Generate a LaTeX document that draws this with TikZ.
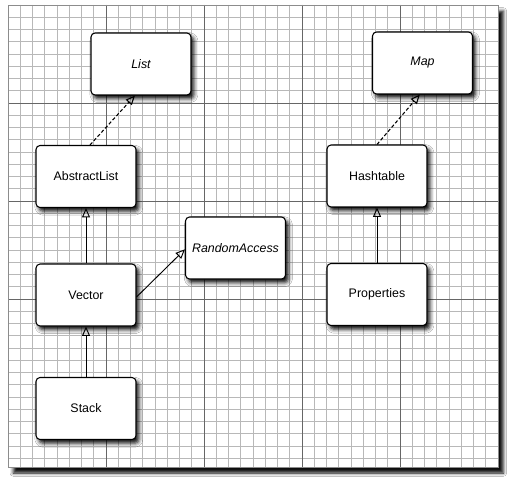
\documentclass[tikz,border=0pt]{standalone}
\usepackage{fontspec}
\setmainfont{Liberation Sans}
\usepackage{tikz}
\usetikzlibrary{arrows.meta, shadows.blur}

\begin{document}
\begin{tikzpicture}[x=0.75pt, y=-0.75pt,
  minorline/.style={draw=black!28, line width=0.4pt},
  majorline/.style={draw=black!60, line width=0.5pt},
  classbox/.style={draw, line width=0.8pt, rounded corners=3pt, fill=white,
    minimum width=75pt, minimum height=46.5pt, inner sep=2pt,
    font=\fontsize{9.3}{11}\selectfont,
    blur shadow={shadow xshift=2.2pt, shadow yshift=-2.8pt, shadow blur radius=3pt, shadow opacity=95}},
  ifacebox/.style={classbox, font=\fontsize{9.3}{11}\selectfont\itshape},
  extends/.style={draw, line width=0.7pt, -{Triangle[open, length=7pt, width=6pt]}},
  implements/.style={extends, line width=0.8pt, dash pattern=on 2.6pt off 1.6pt}]

  % page and grid sheet
  \useasboundingbox (0,0) rectangle (513,484);
  \fill[white] (0,0) rectangle (513,484);
  \path[fill=white, blur shadow={shadow xshift=4pt, shadow yshift=-4.5pt, shadow blur radius=2.5pt, shadow opacity=95}]
    (8,5) rectangle (498,467);
  \foreach \k in {1,...,39}
    \draw[minorline] ({8+12.25*\k},5) -- ({8+12.25*\k},467);
  \foreach \k in {1,...,37}
    \draw[minorline] (8,{5+12.25*\k}) -- (498,{5+12.25*\k});
  \foreach \k in {1,...,4}
    \draw[majorline] ({8+98*\k},5) -- ({8+98*\k},467);
  \foreach \k in {1,...,3}
    \draw[majorline] (8,{5+98*\k}) -- (498,{5+98*\k});
  \draw[black!45, line width=0.6pt] (8,5) rectangle (498,467);

  % interfaces
  \node[ifacebox] (list)   at (141,64)    {List};
  \node[ifacebox] (map)    at (422.5,63)  {Map};
  \node[ifacebox] (random) at (235.5,248) {RandomAccess};

  % classes
  \node[classbox] (alist)  at (86,176.5)  {AbstractList};
  \node[classbox] (vector) at (86,295)    {Vector};
  \node[classbox] (stack)  at (86,408.5)  {Stack};
  \node[classbox] (hash)   at (377,176)   {Hashtable};
  \node[classbox] (props)  at (377,294.5) {Properties};

  % relations
  \draw[implements] ([xshift=3pt]alist.north) -- ([xshift=-4.5pt]list.south);
  \draw[implements] (hash.north) -- ([xshift=-2pt]map.south);
  \draw[extends] (vector) -- (alist);
  \draw[extends] (stack) -- (vector);
  \draw[extends] (props) -- (hash);
  \draw[extends] ([yshift=-1.5pt]vector.east) -- ([yshift=-1pt]random.west);
\end{tikzpicture}
\end{document}
